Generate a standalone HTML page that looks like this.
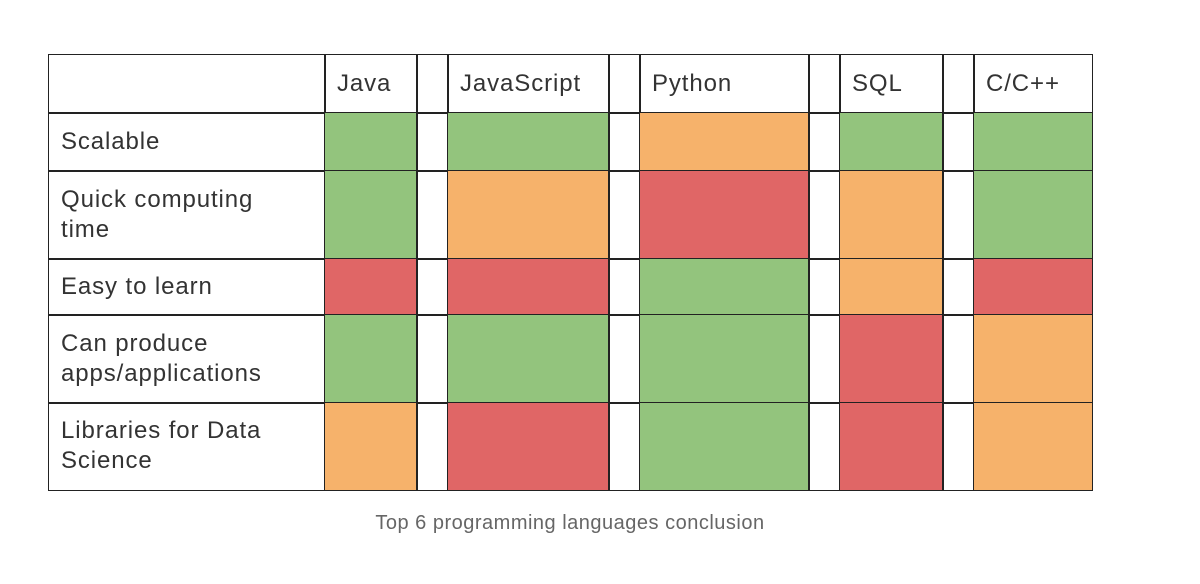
<!DOCTYPE html>
<html><head><meta charset="utf-8"><style>
body{margin:0;width:1200px;height:584px;background:#fff;position:relative;overflow:hidden;font-family:"Liberation Sans",Arial,sans-serif}
.c{position:absolute;box-sizing:border-box;border:1.5px solid #222;color:#333;font-size:24px;letter-spacing:0.9px;line-height:30px;padding:0 12px;display:flex;align-items:center}
.cap{position:absolute;left:0;width:1140px;top:512px;text-align:center;font-size:20px;letter-spacing:0.5px;color:#666}
</style></head><body>
<div id="t"></div>
<div class="cap">Top 6 programming languages conclusion</div>
<script>
const columns=["","Java","","JavaScript","","Python","","SQL","","C/C++"];
const rows=["Scalable","Quick computing time","Easy to learn","Can produce apps/applications","Libraries for Data Science"];
// ratings per language: g=good, o=medium, r=poor
const java=["g","g","r","g","o"];
const javascript=["g","o","r","g","r"];
const python=["o","r","g","g","g"];
const sql=["g","o","o","r","r"];
const cpp=["g","g","r","o","o"];
const series=[null,java,null,javascript,null,python,null,sql,null,cpp];
const colors={g:"#93c47d",o:"#f6b26b",r:"#e06666"};
const xs=[48,324,416,447,608,639,808,839,942,973,1091];
const ys=[54,112,170,258,314,402,489];
const lbl=["Scalable","Quick computing<br>time","Easy to learn","Can produce<br>apps/applications","Libraries for Data<br>Science"];
const t=document.getElementById('t');
function cell(x0,x1,y0,y1,html,bg,name){
  const d=document.createElement('div');d.className='c';
  d.style.left=x0+'px';d.style.top=y0+'px';d.style.width=(x1-x0+1.5)+'px';d.style.height=(y1-y0+1.5)+'px';
  if(bg)d.style.background=bg;d.innerHTML=html;
  
  
  t.appendChild(d);
}
cell(xs[0],xs[1],ys[0],ys[1],"","", "corner-cell");
for(let c=1;c<columns.length;c++) cell(xs[c],xs[c+1],ys[0],ys[1],columns[c],"","header-"+(columns[c]||"spacer").toLowerCase().replace(/[^a-z]/g,''));
for(let r=0;r<rows.length;r++){
  cell(xs[0],xs[1],ys[r+1],ys[r+2],lbl[r],"","row-label");
  for(let c=1;c<columns.length;c++){
    const s=series[c];
    cell(xs[c],xs[c+1],ys[r+1],ys[r+2],"",s?colors[s[r]]:"",s?"rating-cell":"spacer-cell");
  }
}
</script>
</body></html>
